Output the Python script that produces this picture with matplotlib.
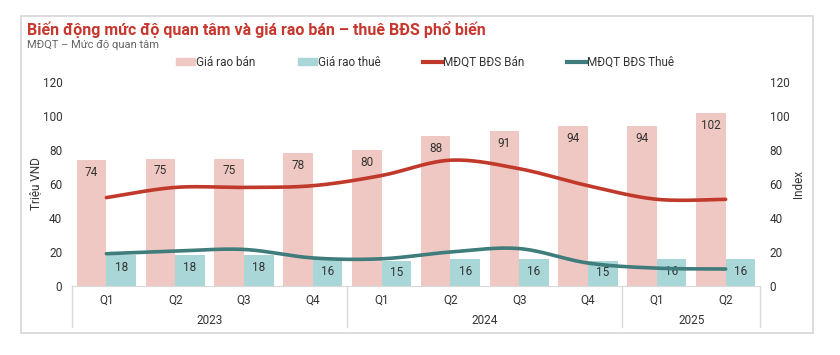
import numpy as np
import matplotlib
matplotlib.use('Agg')
import matplotlib.pyplot as plt
from matplotlib.lines import Line2D
from matplotlib.patches import Patch, Rectangle

plt.rcParams['font.family'] = ['Roboto', 'DejaVu Sans']

# data
quarters = ['Q1', 'Q2', 'Q3', 'Q4', 'Q1', 'Q2', 'Q3', 'Q4', 'Q1', 'Q2']
years = ['2023', '2024', '2025']
year_counts = [4, 4, 2]
gia_ban = [74, 75, 75, 78, 80, 88, 91, 94, 94, 102]
gia_thue = [18, 18, 18, 16, 15, 16, 16, 15, 16, 16]
mdqt_ban = [52, 58, 58, 59, 65, 74, 69, 59, 51, 51]
mdqt_thue = [19, 20.5, 21.5, 16.5, 16, 20, 22, 13.5, 10.5, 10]

c_ban = '#F0C8C3'
c_thue = '#A9D6D7'
c_lban = '#C0392B'
c_lthue = '#3F7C7C'
c_text = '#333333'
c_grid = '#D9D9D9'


def smooth(xs, ys, n=30):
    # Catmull-Rom curve through the points (like Excel smoothed line)
    p = np.column_stack([xs, ys]).astype(float)
    p = np.vstack([p[0], p, p[-1]])
    out = []
    t = np.linspace(0, 1, n)[:, None]
    for i in range(1, len(p) - 2):
        p0, p1, p2, p3 = p[i - 1], p[i], p[i + 1], p[i + 2]
        seg = 0.5 * ((2 * p1) + (-p0 + p2) * t + (2 * p0 - 5 * p1 + 4 * p2 - p3) * t ** 2
                     + (-p0 + 3 * p1 - 3 * p2 + p3) * t ** 3)
        out.append(seg)
    out = np.vstack(out)
    return out[:, 0], out[:, 1]


fig = plt.figure(figsize=(8.4, 3.55), dpi=100)
fig.patches.append(Rectangle((21 / 840, 1 - 333 / 355), (813 - 21) / 840, (333 - 16) / 355,
                             transform=fig.transFigure, fill=False, ec='#D6D6D6', lw=1.2))

ax = fig.add_axes([72 / 840, 1 - 286 / 355, (760 - 72) / 840, (286 - 82) / 355])
ax2 = ax.twinx()

x = np.arange(len(quarters))
w = 0.43
ax.bar(x - w / 2, gia_ban, w, color=c_ban, zorder=1)
ax.bar(x + w / 2, gia_thue, w, color=c_thue, zorder=1)
for i in range(len(x)):
    ax.text(x[i] - w / 2, gia_ban[i] - 3.5, str(gia_ban[i]), ha='center', va='top',
            fontsize=8.5, color=c_text)
    ax.text(x[i] + w / 2, gia_thue[i] - 3.5, str(gia_thue[i]), ha='center', va='top',
            fontsize=8.5, color=c_text)

sx, sy = smooth(x, mdqt_ban)
ax2.plot(sx, sy, color=c_lban, lw=2.6, solid_capstyle='round', zorder=3)
sx, sy = smooth(x, mdqt_thue)
ax2.plot(sx, sy, color=c_lthue, lw=2.6, solid_capstyle='round', zorder=3)
ax.set_zorder(1)
ax2.set_zorder(2)
ax2.patch.set_visible(False)

for a in (ax, ax2):
    a.set_ylim(0, 120)
    a.set_yticks(range(0, 121, 20))
    a.set_xlim(-0.5, len(x) - 0.5)
    for s in a.spines.values():
        s.set_visible(False)
    a.tick_params(axis='y', length=0, labelsize=8.5, labelcolor=c_text)
ax.tick_params(axis='y', pad=7)
ax2.tick_params(axis='y', pad=7)
ax.spines['bottom'].set_visible(True)
ax.spines['bottom'].set_color(c_grid)
ax.set_xticks([])
ax.set_ylabel('Triệu VND', fontsize=8.5, color=c_text)
ax2.set_ylabel('Index', fontsize=8.5, color=c_text)
ax.yaxis.set_label_coords(-0.044, 0.5)
ax2.yaxis.set_label_coords(1.047, 0.5)

# two-level category axis
trans = ax.get_xaxis_transform()
for i, q in enumerate(quarters):
    ax.text(x[i], -0.07, q, transform=trans, ha='center', va='center', fontsize=8.5,
            color=c_text)
edges = np.concatenate([[0], np.cumsum(year_counts)]) - 0.5
for e in edges:
    ax.add_line(Line2D([e, e], [0, -0.2], transform=trans, color=c_grid, lw=1,
                       clip_on=False))
for j, yr in enumerate(years):
    ax.text((edges[j] + edges[j + 1]) / 2, -0.17, yr, transform=trans, ha='center',
            va='center', fontsize=8.5, color=c_text)

fig.text(27 / 840, 1 - 29 / 355, 'Biến động mức độ quan tâm và giá rao bán – thuê BĐS phổ biến',
         fontsize=11.5, fontweight='bold', color='#C8372D', va='center')
fig.text(27 / 840, 1 - 45 / 355, 'MĐQT – Mức độ quan tâm', fontsize=8, color='#666666',
         va='center')

handles = [Patch(color=c_ban), Patch(color=c_thue),
           Line2D([0], [0], color=c_lban, lw=3), Line2D([0], [0], color=c_lthue, lw=3)]
labels = ['Giá rao bán', 'Giá rao thuê', 'MĐQT BĐS Bán', 'MĐQT BĐS Thuê']
fig.legend(handles, labels, loc='center', bbox_to_anchor=(425 / 840, 1 - 62 / 355), ncol=4,
           frameon=False, fontsize=8.5, handlelength=1.6, handleheight=0.6,
           handletextpad=0.1, columnspacing=3.6, labelcolor=c_text)

fig.savefig('out.png', dpi=100)
